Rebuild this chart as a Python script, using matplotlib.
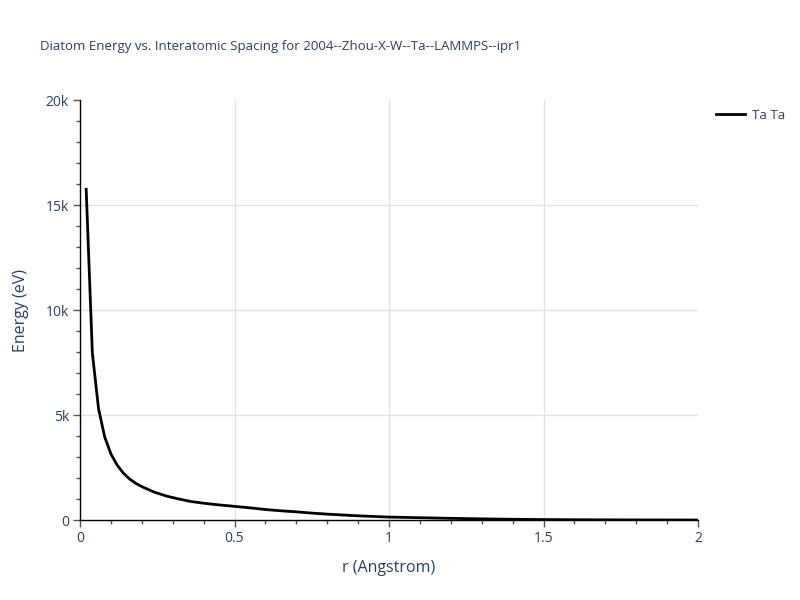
import matplotlib.pyplot as plt
from matplotlib.ticker import MultipleLocator, FuncFormatter

# values
r = [0.02, 0.04, 0.06, 0.08, 0.10, 0.12, 0.14, 0.16, 0.18, 0.20,
     0.24, 0.28, 0.32, 0.36, 0.40, 0.45, 0.50, 0.55, 0.60, 0.65,
     0.70, 0.75, 0.80, 0.85, 0.90, 0.95, 1.00, 1.10, 1.20, 1.30,
     1.40, 1.50, 1.60, 1.70, 1.80, 1.90, 2.00]
energy = [15750, 7950, 5300, 3950, 3150, 2620, 2240, 1960, 1750, 1590,
          1330, 1140, 1000, 880, 800, 720, 650, 580, 500, 440,
          390, 330, 280, 240, 200, 170, 140, 110, 80, 55,
          35, 22, 14, 8, 4, 2, 0]
series_name = "Ta Ta"
title = "Diatom Energy vs. Interatomic Spacing for 2004--Zhou-X-W--Ta--LAMMPS--ipr1"

txt = "#2a3f5f"
plt.rcParams['font.family'] = ['Open Sans', 'DejaVu Sans']

fig = plt.figure(figsize=(8, 6), dpi=100)
ax = fig.add_axes([0.1, 0.1333, 0.7725, 0.7])

ax.plot(r, energy, color="black", linewidth=2, label=series_name)

ax.set_xlim(0, 2)
ax.set_ylim(0, 20000)
ax.xaxis.set_major_locator(MultipleLocator(0.5))
ax.xaxis.set_minor_locator(MultipleLocator(0.1))
ax.yaxis.set_major_locator(MultipleLocator(5000))
ax.yaxis.set_minor_locator(MultipleLocator(1000))

def xfmt(v, pos):
    return "%g" % v

def yfmt(v, pos):
    return "0" if v == 0 else "%gk" % (v / 1000)

ax.xaxis.set_major_formatter(FuncFormatter(xfmt))
ax.yaxis.set_major_formatter(FuncFormatter(yfmt))

# gridlines only inside the plot, none on the top / right edge
for v in [0.5, 1.0, 1.5]:
    ax.axvline(v, color="#e3e3e3", linewidth=1, zorder=0)
for v in [5000, 10000, 15000]:
    ax.axhline(v, color="#e3e3e3", linewidth=1, zorder=0)

for side in ["top", "right"]:
    ax.spines[side].set_visible(False)
for side in ["left", "bottom"]:
    ax.spines[side].set_color("black")
    ax.spines[side].set_linewidth(1)

ax.tick_params(which="major", direction="out", length=5, width=1, color="#555555",
               labelcolor=txt, labelsize=10, pad=3)
ax.tick_params(which="minor", direction="out", length=3, width=1, color="#555555")

ax.set_xlabel("r (Angstrom)", color=txt, fontsize=11.5, labelpad=10)
ax.set_ylabel("Energy (eV)", color=txt, fontsize=11.5, labelpad=12)

fig.text(0.05, 0.923, title, color=txt, fontsize=9.5, ha="left", va="center")

ax.legend(loc="upper left", bbox_to_anchor=(1.01, 1.008), frameon=False,
          fontsize=9.5, labelcolor=txt, handlelength=2.2, handletextpad=0.5)

fig.savefig("out.png", dpi=100)
